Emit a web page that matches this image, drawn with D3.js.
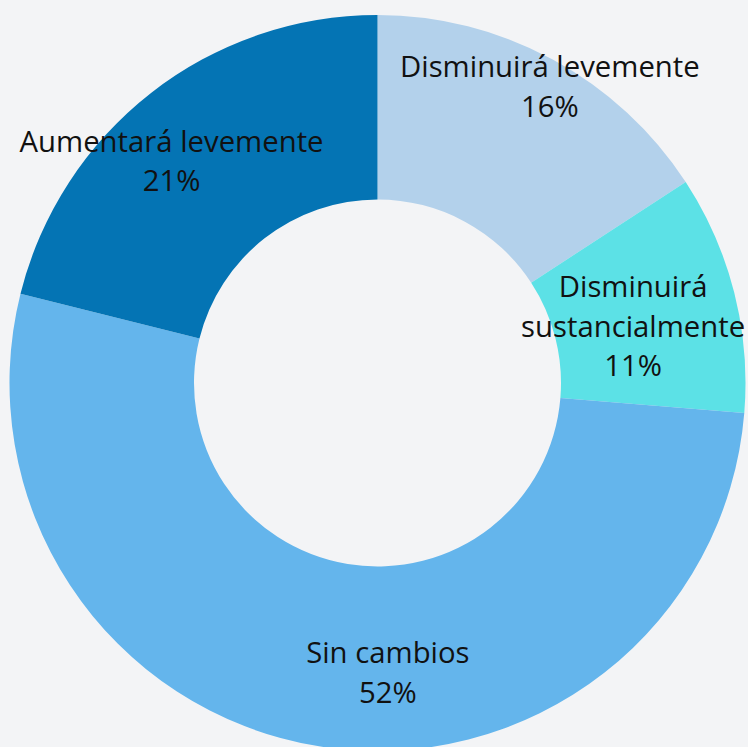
<!DOCTYPE html>
<html>
<head>
<meta charset="utf-8">
<script src="https://cdn.jsdelivr.net/npm/d3@7"></script>
<style>
  html, body { margin: 0; padding: 0; background: #f3f4f6; }
  svg { display: block; }
</style>
</head>
<body>
<svg id="chart" width="748" height="747"></svg>
<script>
// ---- data ----
const categories = ["Disminuirá levemente", "Disminuirá sustancialmente", "Sin cambios", "Aumentará levemente"];
const values = [15.8, 10.5, 52.6, 21.1];
const pctLabels = ["16%", "11%", "52%", "21%"];
const colors = ["#b3d1eb", "#5ce1e6", "#64b5ec", "#0474b4"];

// ---- layout ----
const W = 748, H = 747;
const cx = 377.5, cy = 383;
const outerR = 368, innerR = 183.5;
const fontSize = 29.3;
const lineH = 39.8;
const wrapWidth = 340;
// label placement relative to slice bisector (degrees) and radius as fraction of outer radius
const labelAngleShift = [1.8, 1.9, -11.4, -5.0];
const labelRadiusFrac = [0.930, 0.711, 0.790, 0.821];

const svg = d3.select("#chart");
svg.append("rect").attr("width", W).attr("height", H).attr("fill", "#f3f4f6");
const g = svg.append("g").attr("transform", `translate(${cx},${cy})`);

const pie = d3.pie().sort(null).value(d => d.value);
const arcs = pie(categories.map((c, i) => ({ name: c, value: values[i], pct: pctLabels[i], color: colors[i], idx: i })));
const arc = d3.arc().innerRadius(innerR).outerRadius(outerR);

g.selectAll("path.slice").data(arcs).join("path")
  .attr("class", "slice")
  .attr("d", arc)
  .attr("fill", d => d.data.color);

// measure helper
const measurer = svg.append("text")
  .attr("font-family", "'Open Sans', sans-serif")
  .attr("font-size", fontSize)
  .attr("visibility", "hidden");
function textWidth(s) { measurer.text(s); return measurer.node().getComputedTextLength(); }

const labels = g.selectAll("text.lbl").data(arcs).join("text")
  .attr("class", "lbl")
  .attr("font-family", "'Open Sans', sans-serif")
  .attr("font-size", fontSize)
  .attr("fill", "#111")
  .attr("text-anchor", "middle");

labels.each(function(d) {
  const i = d.data.idx;
  const mid = (d.startAngle + d.endAngle) / 2 + labelAngleShift[i] * Math.PI / 180;
  const [x, y] = d3.pointRadial(mid, outerR * labelRadiusFrac[i]);
  let lines = textWidth(d.data.name) > wrapWidth ? d.data.name.split(" ") : [d.data.name];
  lines = lines.concat([d.data.pct]);
  const n = lines.length;
  const t = d3.select(this);
  lines.forEach((ln, k) => {
    t.append("tspan")
      .attr("x", x)
      .attr("y", y + (k - (n - 1) / 2) * lineH + 9.5)
      .text(ln);
  });
});
measurer.remove();
</script>
</body>
</html>
